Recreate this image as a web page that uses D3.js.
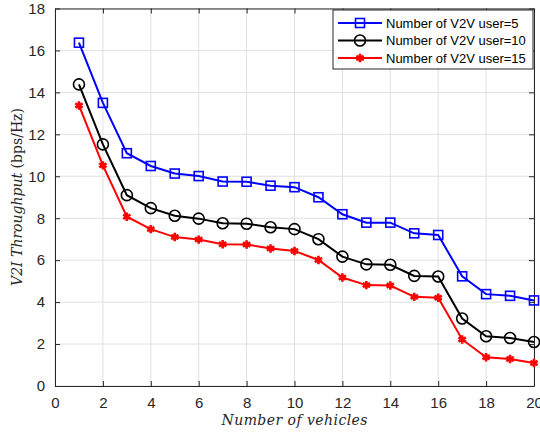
<!DOCTYPE html>
<html>
<head>
<meta charset="utf-8">
<script src="https://cdn.jsdelivr.net/npm/d3@7"></script>
<style>
  body { margin: 0; background: #fff; }
  svg { display: block; }
  .tick text { font-family: Arial, "Liberation Sans", sans-serif; font-size: 15px; fill: #262626; }
</style>
</head>
<body>
<svg id="chart" width="540" height="434"></svg>
<script>
// data
var vehicles = d3.range(1, 21);
var xTicks = [0, 2, 4, 6, 8, 10, 12, 14, 16, 18, 20];
var yTicks = [0, 2, 4, 6, 8, 10, 12, 14, 16, 18];
var users5 = [16.37, 13.5, 11.1, 10.49, 10.13, 10.01, 9.75, 9.74, 9.55, 9.48, 9.0, 8.19, 7.79, 7.79, 7.28, 7.2, 5.23, 4.38, 4.3, 4.08];
var users10 = [14.38, 11.52, 9.1, 8.48, 8.12, 7.98, 7.76, 7.74, 7.57, 7.48, 7.0, 6.17, 5.8, 5.78, 5.25, 5.22, 3.22, 2.37, 2.29, 2.1];
var users15 = [13.38, 10.52, 8.07, 7.48, 7.1, 6.98, 6.76, 6.75, 6.56, 6.44, 6.01, 5.17, 4.81, 4.79, 4.25, 4.21, 2.22, 1.37, 1.29, 1.1];
var seriesNames = ["Number of V2V user=5", "Number of V2V user=10", "Number of V2V user=15"];

var series = [
	{name: seriesNames[0], values: users5, color: "#0000ff", marker: "square"},
	{name: seriesNames[1], values: users10, color: "#000000", marker: "circle"},
	{name: seriesNames[2], values: users15, color: "#ff0000", marker: "star"}
];

var plotLeft = 55, plotRight = 534, plotTop = 8.5, plotBottom = 386;
var svg = d3.select("#chart");

var x = d3.scaleLinear().domain([0, 20]).range([plotLeft, plotRight]);
var y = d3.scaleLinear().domain([0, 18]).range([plotBottom, plotTop]);

//grid
var grid = svg.append("g");
grid.selectAll("line.gx").data(xTicks).enter().append("line")
	.attr("x1", function(d) { return x(d); }).attr("x2", function(d) { return x(d); })
	.attr("y1", plotTop).attr("y2", plotBottom)
	.attr("stroke", "#e0e0e0").attr("stroke-width", 1);
grid.selectAll("line.gy").data(yTicks).enter().append("line")
	.attr("x1", plotLeft).attr("x2", plotRight)
	.attr("y1", function(d) { return y(d); }).attr("y2", function(d) { return y(d); })
	.attr("stroke", "#e0e0e0").attr("stroke-width", 1);

//axes (ticks pointing inside, like matlab)
function styleAxis(g) {
	g.select(".domain").attr("stroke", "#262626").attr("stroke-width", 1);
	g.selectAll(".tick line").attr("stroke", "#262626");
}
svg.append("g").attr("transform", "translate(0," + plotBottom + ")")
	.call(d3.axisBottom(x).tickValues(xTicks).tickSizeInner(-5).tickSizeOuter(0).tickPadding(11))
	.call(styleAxis);
svg.append("g").attr("transform", "translate(" + plotLeft + ",0)")
	.call(d3.axisLeft(y).tickValues(yTicks).tickSizeInner(-5).tickSizeOuter(0).tickPadding(10))
	.call(styleAxis);
svg.append("g").attr("transform", "translate(0," + plotTop + ")")
	.call(d3.axisTop(x).tickValues(xTicks).tickSizeInner(-5).tickSizeOuter(0).tickFormat(""))
	.call(styleAxis);
svg.append("g").attr("transform", "translate(" + plotRight + ",0)")
	.call(d3.axisRight(y).tickValues(yTicks).tickSizeInner(-5).tickSizeOuter(0).tickFormat(""))
	.call(styleAxis);

//lines and markers
var line = d3.line()
	.x(function(d, i) { return x(vehicles[i]); })
	.y(function(d) { return y(d); });

function drawMarker(g, type, color) {
	if (type == "square")
		g.append("rect").attr("x", -4.5).attr("y", -4.5).attr("width", 9).attr("height", 9)
			.attr("fill", "none").attr("stroke", color).attr("stroke-width", 1.6);
	else if (type == "circle")
		g.append("circle").attr("r", 5.5)
			.attr("fill", "none").attr("stroke", color).attr("stroke-width", 1.6);
	else
		g.append("path").attr("d", d3.symbol(d3.symbolAsterisk, 50)())
			.attr("fill", "none").attr("stroke", color).attr("stroke-width", 2.6);
}

series.forEach(function(s) {
	svg.append("path").datum(s.values)
		.attr("d", line)
		.attr("fill", "none")
		.attr("stroke", s.color)
		.attr("stroke-width", 2);
	svg.append("g").selectAll("g").data(s.values).enter().append("g")
		.attr("transform", function(d, i) { return "translate(" + x(vehicles[i]) + "," + y(d) + ")"; })
		.each(function() { drawMarker(d3.select(this), s.marker, s.color); });
});

//legend
var legend = svg.append("g").attr("transform", "translate(333,10)");
legend.append("rect").attr("width", 200).attr("height", 59)
	.attr("fill", "#fff").attr("stroke", "#262626").attr("stroke-width", 1);
series.forEach(function(s, i) {
	var row = legend.append("g").attr("transform", "translate(0," + (13 + i * 17.5) + ")");
	row.append("line").attr("x1", 5).attr("x2", 49).attr("stroke", s.color).attr("stroke-width", 2);
	drawMarker(row.append("g").attr("transform", "translate(27,0)"), s.marker, s.color);
	row.append("text").attr("x", 53).attr("y", 4.5)
		.attr("font-family", "Arial, 'Liberation Sans', sans-serif").attr("font-size", "13px")
		.attr("fill", "#000").text(s.name);
});

//axis titles
svg.append("text")
	.attr("x", (plotLeft + plotRight) / 2).attr("y", 425)
	.attr("text-anchor", "middle")
	.attr("font-family", "'DejaVu Serif', serif").attr("font-style", "italic")
	.attr("font-size", "14px").attr("fill", "#262626")
	.attr("textLength", 146).attr("lengthAdjust", "spacing")
	.text("Number of vehicles");

var ylab = svg.append("text")
	.attr("transform", "translate(22,197) rotate(-90)")
	.attr("text-anchor", "middle")
	.attr("font-family", "'DejaVu Serif', serif").attr("font-size", "14px").attr("fill", "#262626");
ylab.append("tspan").attr("font-style", "italic").text("V2I Throughput ");
ylab.append("tspan").text("(bps/Hz)");
</script>
</body>
</html>
